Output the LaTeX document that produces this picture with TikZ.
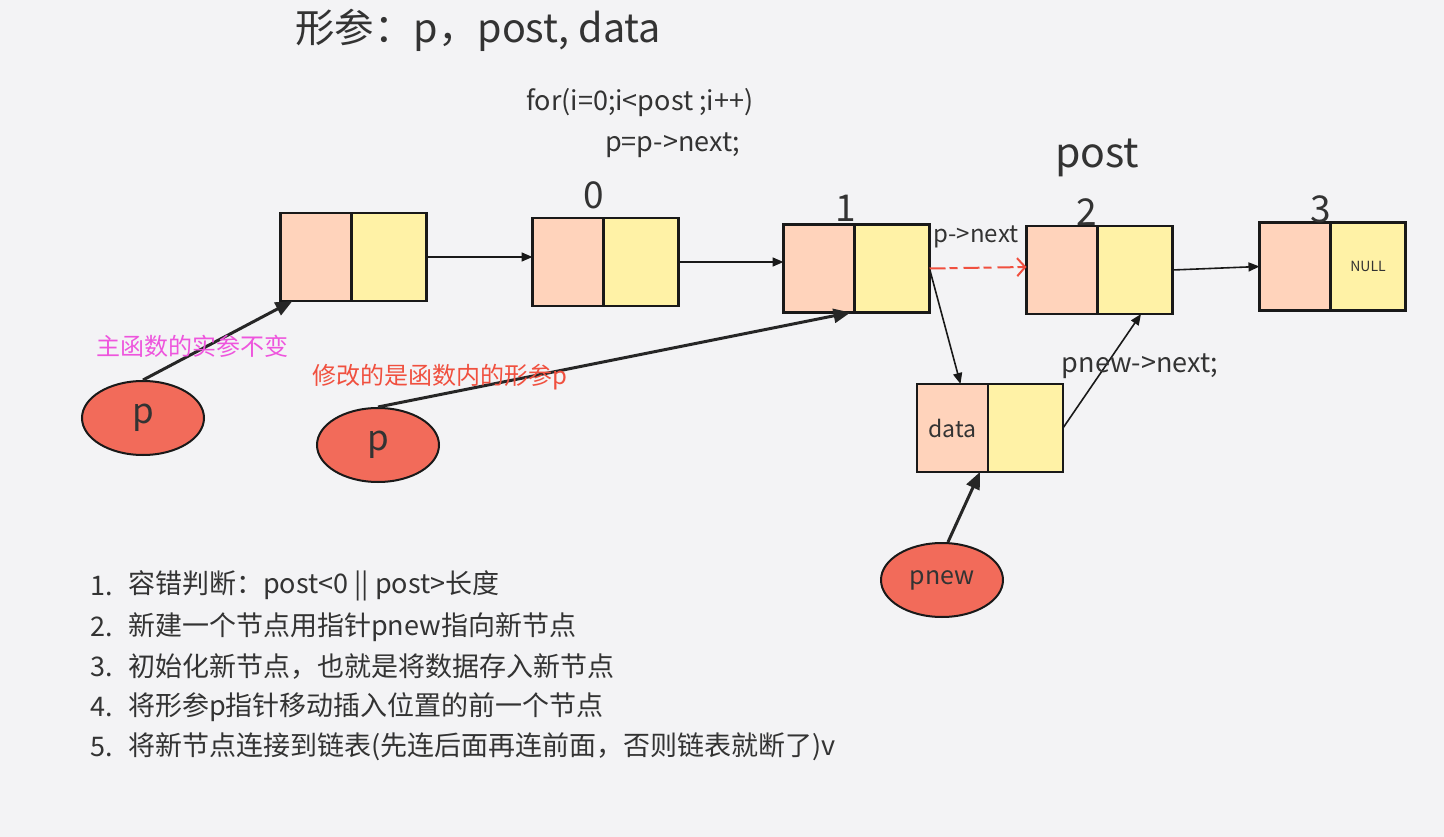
\documentclass[tikz,border=0pt]{standalone}
\usepackage{fontspec}
\setmainfont{Noto Sans CJK SC}
\usetikzlibrary{arrows.meta,shapes.geometric,positioning}
\definecolor{bg}{HTML}{F3F3F5}
\definecolor{peach}{HTML}{FFD3BB}
\definecolor{lemon}{HTML}{FFF2A6}
\definecolor{ptr}{HTML}{F26B5A}
\definecolor{ink}{HTML}{333333}
\definecolor{pinktxt}{HTML}{EE55DD}
\definecolor{redtxt}{HTML}{F0503F}
\begin{document}
\begin{tikzpicture}[x=1pt,y=-1pt,
  cell/.style={draw=black!90, line width=2.4pt, minimum width=71pt, minimum height=88pt, outer sep=0pt, inner sep=0pt, text=ink},
  ptrnode/.style={ellipse, draw=black!90, line width=2pt, fill=ptr, minimum width=122pt, minimum height=74pt, text=ink},
  thin/.style={-{Triangle[length=11pt,width=9pt]}, line width=1.6pt, black!90},
  thick/.style={-{Triangle[length=17pt,width=14pt]}, line width=3pt, black!85},
  txt/.style={text=ink, inner sep=0pt}]
% background and page size
\fill[bg] (0,0) rectangle (1444,837);
\useasboundingbox (0,0) rectangle (1444,837);
% header
\node[txt, font=\fontsize{39.5}{42}\selectfont] (title) at (478,30) {形参：p，post, data};
\node[txt, anchor=west, font=\fontsize{27}{29}\selectfont] (loop) at (526,103) {for(i=0;i<post ;i++)};
\node[txt, anchor=west, font=\fontsize{27}{29}\selectfont] (step1) at (605,145) {p=p->next;};
% list nodes
\foreach \n/\x/\y in {a/316/257, 0/568/262, 1/819/268.5, 2/1062/270, 3/1295/266.5} {
  \node[cell, fill=peach] (L\n) at (\x,\y) {};
  \node[cell, fill=lemon, minimum width=75pt, right=0pt of L\n] (R\n) {};
}
\node[cell, fill=peach, font=\fontsize{23}{25}\selectfont] (Ld) at (952.5,428) {data};
\node[cell, fill=lemon, minimum width=75pt, right=0pt of Ld] (Rd) {};
\node[txt, font=\fontsize{14}{15}\selectfont] (null) at (R3) {NULL};
% index labels
\foreach \n/\x/\y in {0/594/195, 1/846/208, 2/1087/212, 3/1321/209} {
  \node[txt, font=\fontsize{37}{39}\selectfont] (idx\n) at (\x,\y) {\n};
}
\node[txt, font=\fontsize{41}{43}\selectfont] (postlbl) at (1097,158) {post};
% pointers
\node[ptrnode, font=\fontsize{35}{37}\selectfont] (p1) at (143,418) {p};
\node[ptrnode, font=\fontsize{35}{37}\selectfont] (p2) at (378,445) {p};
\node[ptrnode, font=\fontsize{25}{27}\selectfont] (pnew) at (942,580) {pnew};
% links
\draw[thin] (Ra.east) -- (Ra.east -| L0.west);
\draw[thin] (R0.east) -- (R0.east -| L1.west);
\draw[thin] (R2.east) -- (L3.west);
\draw[thin] (R1.east) -- ([xshift=8pt]Ld.north);
\draw[thin] (Rd.east) -- ([xshift=6pt]R2.south);
\draw[redtxt, line width=2pt, dash pattern=on 16pt off 4pt on 8pt off 6pt,
  -{Straight Barb[length=8pt,width=18pt]}] (R1.east) -- ([yshift=3pt]L2.west);
\draw[thick] (p1.north) -- ([xshift=12pt]La.south west);
\draw[thick] (p2.north) -- ([xshift=-4pt]L1.south east);
\draw[thick] ([xshift=6pt]pnew.north) -- ([xshift=-8pt]Ld.south east);
% labels
\node[txt, font=\fontsize{24}{26}\selectfont] (nextlbl) at (976,237) {p->next};
\node[txt, font=\fontsize{27}{29}\selectfont] (newnext) at (1140,366) {pnew->next;};
\node[inner sep=0pt, text=pinktxt, font=\fontsize{24}{26}\selectfont] (note1) at (192,346) {主函数的实参不变};
\node[inner sep=0pt, text=redtxt, font=\fontsize{24}{26}\selectfont] (note2) at (440,377) {修改的是函数内的形参p};
% steps
\foreach \i/\t/\y in {1/{容错判断：post<0 || post>长度}/586,
                      2/{新建一个节点用指针pnew指向新节点}/627,
                      3/{初始化新节点，也就是将数据存入新节点}/667,
                      4/{将形参p指针移动插入位置的前一个节点}/707,
                      5/{将新节点连接到链表(先连后面再连前面，否则链表就断了)v}/747} {
  \node[txt, anchor=west, font=\fontsize{27}{29}\selectfont] (num\i) at (90,\y) {\i.};
  \node[txt, anchor=west, font=\fontsize{27}{29}\selectfont] (item\i) at (128,\y) {\t};
}
\end{tikzpicture}
\end{document}
